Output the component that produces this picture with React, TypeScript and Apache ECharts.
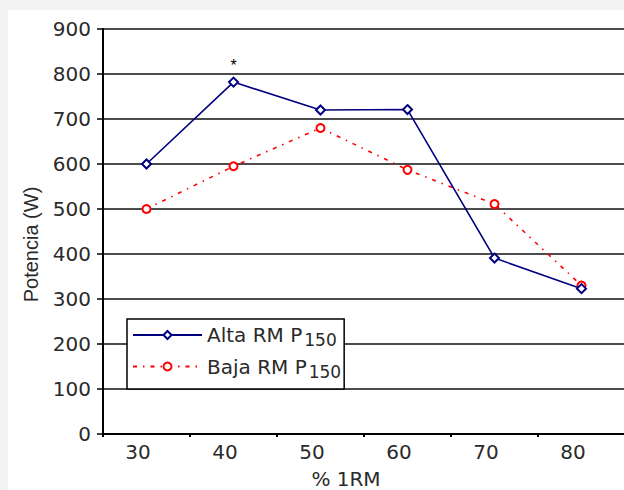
import React, { useEffect, useRef } from "react";
import * as echarts from "echarts";

const categories = ["30", "40", "50", "60", "70", "80"];
const altaValues = [600, 782, 720, 721, 391, 323];
const bajaValues = [500, 595, 680, 587, 511, 330];
const yTicks = { min: 0, max: 900, interval: 100 };
const seriesNames = ["Alta RM P150", "Baja RM P150"];
const markedIndex = 1;

const FONT = "'Liberation Sans', Arial, sans-serif";
const WIDE = "'DejaVu Sans', sans-serif";
const TXT = "#2a2a2a";

export default function App() {
  const ref = useRef<HTMLDivElement>(null);
  useEffect(() => {
    if (!ref.current) return;
    const chart = echarts.init(ref.current, undefined, { renderer: "svg" });
    chart.setOption({
      animation: false,
      backgroundColor: "#ffffff",
      textStyle: { fontFamily: FONT, color: TXT },
      grid: { left: 95, top: 19, width: 522, height: 405, outerBoundsMode: "none", containLabel: false },
      legend: {
        orient: "vertical",
        left: 119,
        top: 309,
        padding: [6, 3, 9, 5],
        itemGap: 8,
        itemWidth: 69,
        itemHeight: 10,
        backgroundColor: "#ffffff",
        borderColor: "#000",
        borderWidth: 1.5,
        borderRadius: 0,
        data: seriesNames,
        formatter: (name: string) => `{a|${name.replace("150", "")}}{s|150}`,
        textStyle: {
          fontFamily: WIDE,
          color: TXT,
          rich: {
            a: { fontSize: 20, fontFamily: WIDE, color: TXT },
            s: { fontSize: 17, fontFamily: WIDE, color: TXT, padding: [10, 0, 0, 2] },
          },
        },
      },
      xAxis: {
        type: "category",
        data: categories,
        boundaryGap: true,
        name: "% 1RM",
        nameLocation: "middle",
        nameGap: 35,
        nameTextStyle: { fontSize: 20, fontFamily: WIDE, color: TXT, padding: [0, 36, 0, 0] },
        axisLine: { lineStyle: { color: "#000", width: 2 } },
        axisTick: { show: true, alignWithLabel: false, length: 3, lineStyle: { color: "#000", width: 2 } },
        axisLabel: { fontSize: 20, fontFamily: WIDE, color: TXT, margin: 8, padding: [0, 17, 0, 0] },
        splitLine: { show: false },
      },
      yAxis: {
        type: "value",
        min: yTicks.min,
        max: yTicks.max,
        interval: yTicks.interval,
        name: "Potencia (W)",
        nameLocation: "middle",
        nameGap: 62,
        nameRotate: 90,
        nameTextStyle: { fontSize: 20, fontFamily: FONT, color: TXT, padding: [0, 26, 0, 0] },
        axisLine: { show: true, lineStyle: { color: "#000", width: 2 } },
        axisTick: { show: true, length: 6, lineStyle: { color: "#000", width: 1.5 } },
        axisLabel: { fontSize: 20, fontFamily: WIDE, color: TXT, margin: 12 },
        splitLine: { show: true, lineStyle: { color: "#111", width: 1.6 } },
      },
      series: [
        {
          name: seriesNames[0],
          type: "line",
          data: altaValues.map((v, i) =>
            i === markedIndex
              ? { value: v, label: { show: true, formatter: "*", position: "top", distance: 3, fontSize: 16, color: "#000" } }
              : v
          ),
          symbol: "emptyDiamond",
          symbolSize: 9,
          lineStyle: { color: "#000080", width: 1.6 },
          itemStyle: { color: "#000080", borderColor: "#000080", borderWidth: 1.5 },
          z: 3,
        },
        {
          name: seriesNames[1],
          type: "line",
          data: bajaValues,
          symbol: "emptyCircle",
          symbolSize: 8,
          lineStyle: { color: "#ff0000", width: 1.6, type: [4, 6, 1.5, 6] },
          itemStyle: { color: "#ff0000", borderColor: "#ff0000", borderWidth: 1.5 },
          z: 2,
        },
      ],
    });
    return () => chart.dispose();
  }, []);
  return (
    <div style={{ position: "fixed", left: 0, top: 0, width: 624, height: 490, background: "#f3f3f3", overflow: "hidden" }}>
      <div ref={ref} style={{ position: "absolute", left: 8, top: 10, width: 616, height: 480 }} />
    </div>
  );
}
